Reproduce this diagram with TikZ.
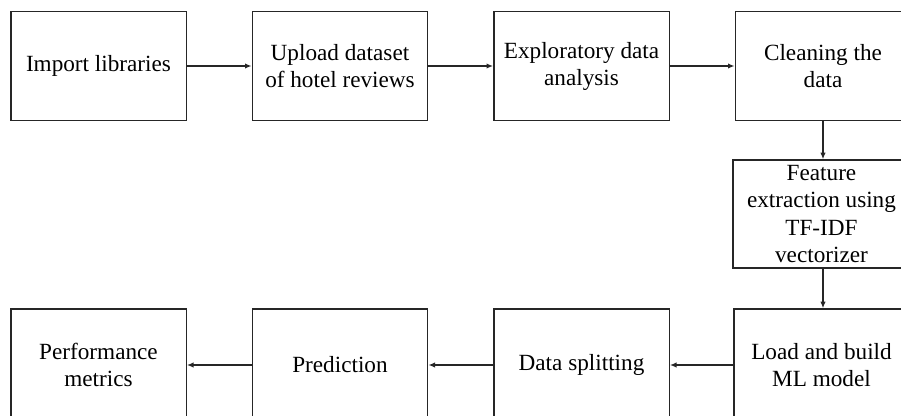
\documentclass[tikz,border=0pt]{standalone}
\usepackage{fontspec}
\setmainfont{Liberation Serif}
\usetikzlibrary{arrows.meta}
\tikzset{
  stepbox/.style={draw=black!85, line width=1pt, rectangle, align=center,
    minimum width=131.5pt, minimum height=82pt, inner sep=0pt,
    font=\fontsize{17.4pt}{20.3pt}\selectfont},
  flow/.style={draw=black!85, line width=1pt, -{Latex[length=5pt,width=4pt]}}
}
\begin{document}
\begin{tikzpicture}[x=0.75pt, y=-0.75pt]
  \useasboundingbox (0,0) rectangle (901,415);
  \clip (0,0) rectangle (901,415);
  % top row
  \node[stepbox] (imp) at (98.5,66) {Import libraries};
  \node[stepbox] (upl) at (340,66) {Upload dataset\\of hotel reviews};
  \node[stepbox] (eda) at (581.5,66) {Exploratory data\\analysis};
  \node[stepbox] (cln) at (823,66) {Cleaning the\\data};
  % feature extraction
  \node[stepbox, minimum width=132.75pt, minimum height=81pt] (fex) at (821.5,214) {Feature\\extraction using\\TF-IDF\\vectorizer};
  % bottom row
  \node[stepbox, minimum height=84pt] (prf) at (98.5,365) {Performance\\metrics};
  \node[stepbox, minimum height=84pt] (prd) at (340,365) {Prediction};
  \node[stepbox, minimum height=84pt] (spl) at (581.5,365) {Data splitting};
  \node[stepbox, minimum height=84pt] (lbm) at (821.5,365) {Load and build\\ML model};
  % connectors
  \draw[flow] (imp) -- (upl);
  \draw[flow] (upl) -- (eda);
  \draw[flow] (eda) -- (cln);
  \draw[flow] (cln.south) -- (cln.south |- fex.north);
  \draw[flow] (fex.south -| cln.south) -- (lbm.north -| cln.south);
  \draw[flow] (lbm) -- (spl);
  \draw[flow] (spl) -- (prd);
  \draw[flow] (prd) -- (prf);
\end{tikzpicture}
\end{document}
